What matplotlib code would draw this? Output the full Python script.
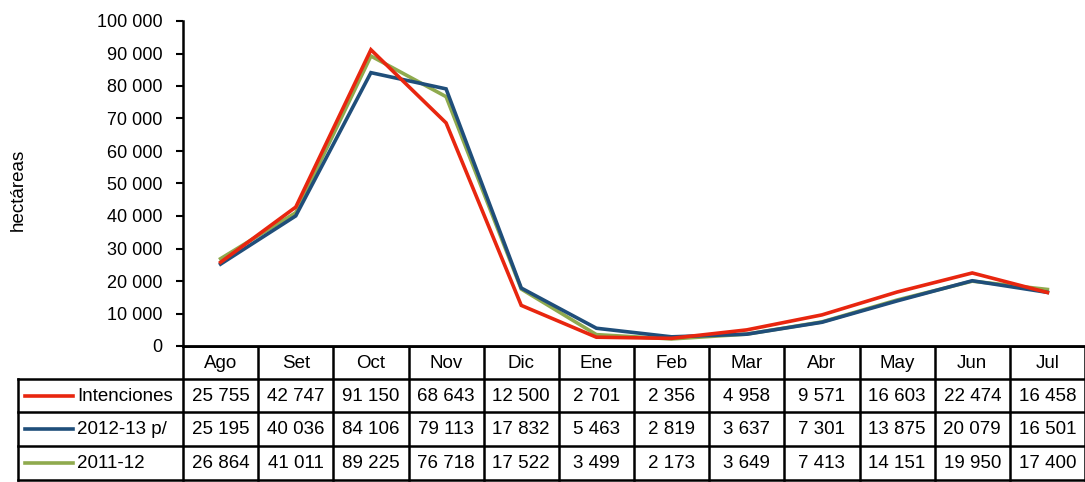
import numpy as np
import matplotlib.pyplot as plt

months = ["Ago", "Set", "Oct", "Nov", "Dic", "Ene", "Feb", "Mar", "Abr", "May", "Jun", "Jul"]
intenciones = [25755, 42747, 91150, 68643, 12500, 2701, 2356, 4958, 9571, 16603, 22474, 16458]
campana_1213 = [25195, 40036, 84106, 79113, 17832, 5463, 2819, 3637, 7301, 13875, 20079, 16501]
campana_1112 = [26864, 41011, 89225, 76718, 17522, 3499, 2173, 3649, 7413, 14151, 19950, 17400]

series = [("Intenciones", intenciones, "#E8260F"),
          ("2012-13 p/", campana_1213, "#1F4E7A"),
          ("2011-12", campana_1112, "#8FAA4E")]

plt.rcParams['font.family'] = ['Liberation Sans', 'DejaVu Sans']
W, H = 1085, 482
fig = plt.figure(figsize=(W / 100, H / 100), dpi=100)

x0, x1 = 183, 1085
y_top, y_zero = 21, 346
ax = fig.add_axes([x0 / W, (H - y_zero) / H, (x1 - x0) / W, (y_zero - y_top) / H])
x = np.arange(len(months))
# green first, then blue, red on top
for name, vals, col in series[::-1]:
    ax.plot(x, vals, color=col, lw=2.6, solid_joinstyle='miter')
ax.set_xlim(-0.5, len(months) - 0.5)
ax.set_ylim(0, 100000)
ax.set_yticks(np.arange(0, 100001, 10000))
ax.set_yticklabels([f"{v:,}".replace(",", " ") for v in range(0, 100001, 10000)], fontsize=13)
ax.tick_params(axis='y', direction='out', length=5, width=1.5, pad=10)
ax.tick_params(axis='x', length=0, labelbottom=False)
for s in ["top", "right"]:
    ax.spines[s].set_visible(False)
ax.spines["left"].set_linewidth(1.8)
ax.spines["bottom"].set_linewidth(2)
ax.set_ylabel("hectáreas", fontsize=13.5)
ax.yaxis.set_label_coords(-(x0 - 27) / (x1 - x0), 0.48)

# data table under the chart
colw = (x1 - x0) / len(months)
left_px = 18
tx = fig.add_axes([0, 0, 1, 1], zorder=-1)
tx.set_xlim(0, W)
tx.set_ylim(H, 0)
tx.axis("off")
row_edges = [346, 379, 412, 446, 480]
lw = 1.8
tx.plot([x0, x1], [row_edges[0]] * 2, color="black", lw=lw)
for y in row_edges[1:]:
    tx.plot([left_px, x1], [y, y], color="black", lw=lw)
for i in range(len(months) + 1):
    xv = x0 + i * colw
    tx.plot([xv, xv], [row_edges[0], row_edges[-1]], color="black", lw=lw)
tx.plot([left_px, left_px], [row_edges[1], row_edges[-1]], color="black", lw=lw)

for i, m in enumerate(months):
    tx.text(x0 + (i + 0.5) * colw, (row_edges[0] + row_edges[1]) / 2 + 1, m,
            ha="center", va="center", fontsize=13.5)
for r, (name, vals, col) in enumerate(series):
    yc = (row_edges[r + 1] + row_edges[r + 2]) / 2 + 1
    tx.plot([25, 73], [yc - 1, yc - 1], color=col, lw=2.6)
    tx.text(77, yc, name, ha="left", va="center", fontsize=13.5)
    for i, v in enumerate(vals):
        tx.text(x0 + (i + 0.5) * colw, yc, f"{v:,}".replace(",", " "),
                ha="center", va="center", fontsize=13.5)

fig.savefig("out.png", dpi=100)
